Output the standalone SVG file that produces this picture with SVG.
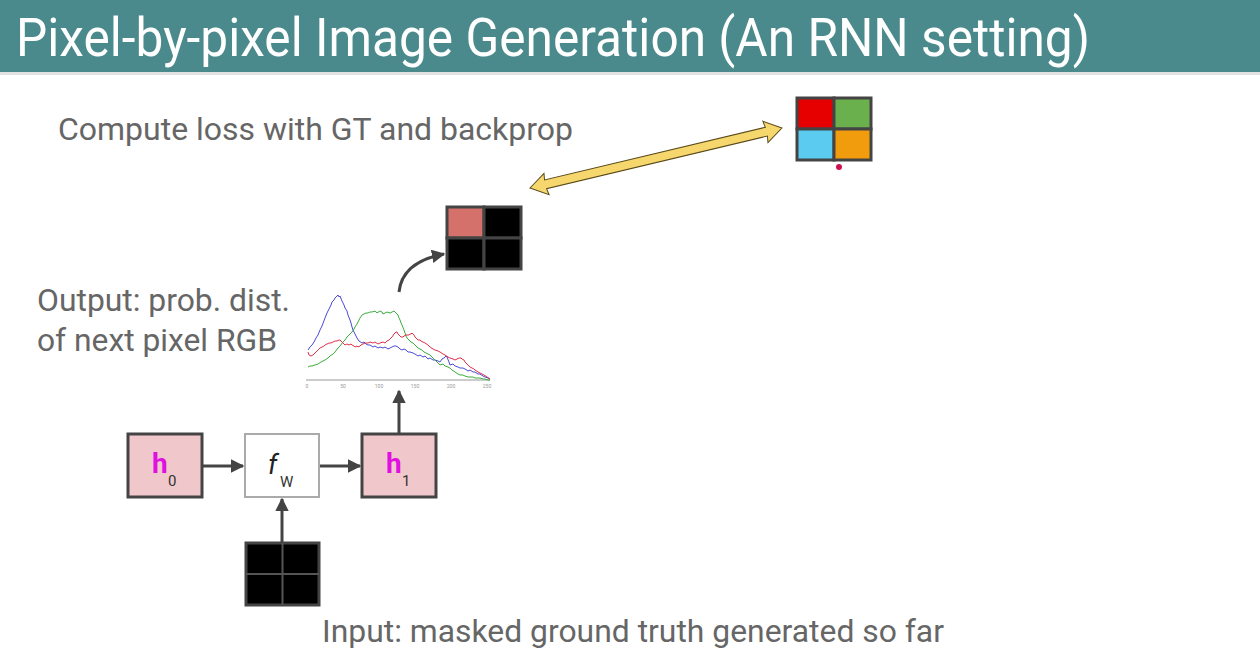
<svg xmlns="http://www.w3.org/2000/svg" width="1260" height="655" viewBox="0 0 1260 655">
<defs>
<style>
.txt{font-family:Roboto,"Liberation Sans",sans-serif;font-size:31px;fill:#666}
.box{stroke:#444;stroke-width:3}
.cell{stroke:#444;stroke-width:3}
.conn{stroke:#444;stroke-width:3;fill:none}
.ax{font-family:Roboto,"Liberation Sans",sans-serif;font-size:5px;fill:#999;text-anchor:middle}
.h{font-family:Roboto,"Liberation Sans",sans-serif;font-weight:bold;font-size:28px;fill:#e010e0}
.sub{font-family:Roboto,"Liberation Sans",sans-serif;font-size:15px;fill:#333}
</style>
<marker id="ah" viewBox="0 0 10 10" refX="9" refY="5" markerWidth="4.5" markerHeight="4.5" orient="auto" markerUnits="strokeWidth">
<path d="M0,0 L10,5 L0,10 z" fill="#444"/>
</marker>
</defs>
<rect x="0" y="0" width="1260" height="655" fill="#ffffff"/>
<rect x="0" y="0" width="1260" height="72" fill="#4b8a8c"/>
<rect x="0" y="72" width="1260" height="3" fill="#e2e2e2"/>
<text x="16" y="56" font-family="Roboto,'Liberation Sans',sans-serif" font-size="53" fill="#ffffff" textLength="1074" lengthAdjust="spacingAndGlyphs">Pixel-by-pixel Image Generation (An RNN setting)</text>

<text class="txt" x="58" y="140" textLength="515" lengthAdjust="spacingAndGlyphs">Compute loss with GT and backprop</text>
<text class="txt" x="37" y="311" textLength="253" lengthAdjust="spacingAndGlyphs">Output: prob. dist.</text>
<text class="txt" x="37" y="351" textLength="240" lengthAdjust="spacingAndGlyphs">of next pixel RGB</text>
<text class="txt" x="322" y="642" textLength="622" lengthAdjust="spacingAndGlyphs">Input: masked ground truth generated so far</text>

<g id="gt">
<rect class="cell" x="797" y="98" width="37" height="31" fill="#e60000"/>
<rect class="cell" x="834" y="98" width="37" height="31" fill="#6ab04c"/>
<rect class="cell" x="797" y="129" width="37" height="31" fill="#5bcbf0"/>
<rect class="cell" x="834" y="129" width="37" height="31" fill="#f09c0c"/>
<circle cx="839" cy="167" r="3" fill="#d0104c"/>
</g>

<g id="output-grid">
<rect class="cell" x="447" y="207" width="37" height="31" fill="#d4716a"/>
<rect class="cell" x="484" y="207" width="37" height="31" fill="#000"/>
<rect class="cell" x="447" y="238" width="37" height="31" fill="#000"/>
<rect class="cell" x="484" y="238" width="37" height="31" fill="#000"/>
</g>

<g id="chart" fill="none" stroke-width="1">
<line x1="306" y1="380" x2="490" y2="380" stroke="#ccc" stroke-width="2"/>
<polyline stroke="#4a4ad8" points="308,350 310,347 312,345 314,342 316,338 318,335 320,330 322,326 325,318 327,313 329,309 331,305 332,302 334,300 335,298 337,296 338,295 339,297 340,296 342,301 344,305 345,308 347,311 348,315 350,320 351,323 352,327 353,330 355,334 357,338 359,341 362,343 364,342 366,344 368,345 370,345 373,347 375,346 378,348 380,347 383,348 385,347 388,349 390,348 392,347 394,346 396,346 398,347 400,349 402,350 404,349 406,350 408,352 410,352 413,353 415,354 418,356 420,355 423,357 425,356 428,359 430,358 433,360 435,360 438,361 440,362 442,359 444,358 446,356 447,357 449,362 450,365 453,364 455,366 458,367 460,368 463,368 465,369 468,371 470,370 473,372 475,372 478,374 480,374 483,376 485,377 488,378 490,379"/>
<polyline stroke="#3cae3c" points="308,367 310,366 312,366 315,365 318,364 321,362 325,360 328,358 330,356 333,354 335,352 338,348 340,346 343,342 345,340 347,337 349,335 351,333 352,332 354,329 355,327 357,324 358,322 360,318 362,315 364,314 366,313 368,313 370,312 372,312 375,311 377,313 380,311 382,312 383,314 385,313 387,312 390,313 392,312 394,311 396,313 398,315 399,318 400,320 401,323 402,325 404,330 405,333 406,336 407,338 409,340 411,342 413,343 415,345 417,347 418,348 420,349 422,350 424,352 426,353 428,354 430,355 433,358 435,360 437,362 440,365 443,364 445,366 448,367 450,368 452,370 455,372 458,374 460,375 463,375 465,376 468,377 470,377 473,377 475,378 478,378 480,378 483,379 485,379 488,380 490,380"/>
<polyline stroke="#e0304a" points="308,352 309,355 311,356 313,355 314,354 316,352 318,350 320,348 322,347 324,346 325,345 327,344 329,343 331,343 333,342 335,341 337,341 339,340 340,340 342,342 343,343 345,345 347,344 349,345 351,344 352,345 354,346 355,347 357,346 358,347 360,346 361,345 363,344 365,343 368,343 370,342 373,343 375,342 378,344 380,343 383,342 385,343 387,341 389,340 391,338 392,337 394,334 395,333 396,332 397,332 398,334 399,335 400,336 401,337 403,337 404,336 406,335 407,335 409,335 410,334 411,334 412,333 414,335 415,337 417,339 418,340 420,340 421,341 423,342 425,343 428,345 430,347 433,349 435,350 438,351 440,352 443,354 445,355 448,357 450,358 453,359 455,360 457,359 459,358 461,358 462,359 464,360 465,362 467,364 468,365 470,367 472,368 474,369 475,370 478,372 480,373 482,374 484,375 487,377 490,379"/>
<text class="ax" x="307" y="388">0</text>
<text class="ax" x="343" y="388">50</text>
<text class="ax" x="379" y="388">100</text>
<text class="ax" x="415" y="388">150</text>
<text class="ax" x="451" y="388">200</text>
<text class="ax" x="487" y="388">250</text>
</g>

<g id="h0">
<rect class="box" x="128" y="434" width="74" height="63" fill="#f0c8cc"/>
<text class="h" x="152" y="473">h</text>
<text class="sub" x="168" y="486">0</text>
</g>
<g id="fw">
<rect x="245" y="434" width="74" height="63" fill="#ffffff" stroke="#aaa" stroke-width="2"/>
<text x="268" y="474" font-family="Roboto,'Liberation Sans',sans-serif" font-style="italic" font-size="27" fill="#222">f</text>
<text class="sub" x="280" y="487" font-size="14">W</text>
</g>
<g id="h1">
<rect class="box" x="362" y="434" width="74" height="63" fill="#f0c8cc"/>
<text class="h" x="386" y="473">h</text>
<text class="sub" x="402" y="486">1</text>
</g>

<g id="input-grid">
<rect x="246" y="543" width="73" height="62" fill="#000" stroke="#444" stroke-width="3"/>
<line x1="282.5" y1="543" x2="282.5" y2="605" stroke="#555" stroke-width="2"/>
<line x1="246" y1="574" x2="319" y2="574" stroke="#555" stroke-width="2"/>
</g>

<g id="connectors">
<line class="conn" x1="203" y1="466" x2="243" y2="466" marker-end="url(#ah)"/>
<line class="conn" x1="320" y1="466" x2="360" y2="466" marker-end="url(#ah)"/>
<line class="conn" x1="282" y1="543" x2="282" y2="499" marker-end="url(#ah)"/>
<line class="conn" x1="399" y1="433" x2="399" y2="391" marker-end="url(#ah)"/>
<path class="conn" d="M399,292 Q402,262 444,254" marker-end="url(#ah)"/>
<g transform="translate(530,188) rotate(-13.4)">
<polygon points="0,0 17,-11 16,-4.5 243,-4.5 242,-11 259,0 242,11 243,4.5 16,4.5 17,11" fill="#f5d76e" stroke="#5a4a1a" stroke-width="1"/>
</g>
</g>
</svg>
